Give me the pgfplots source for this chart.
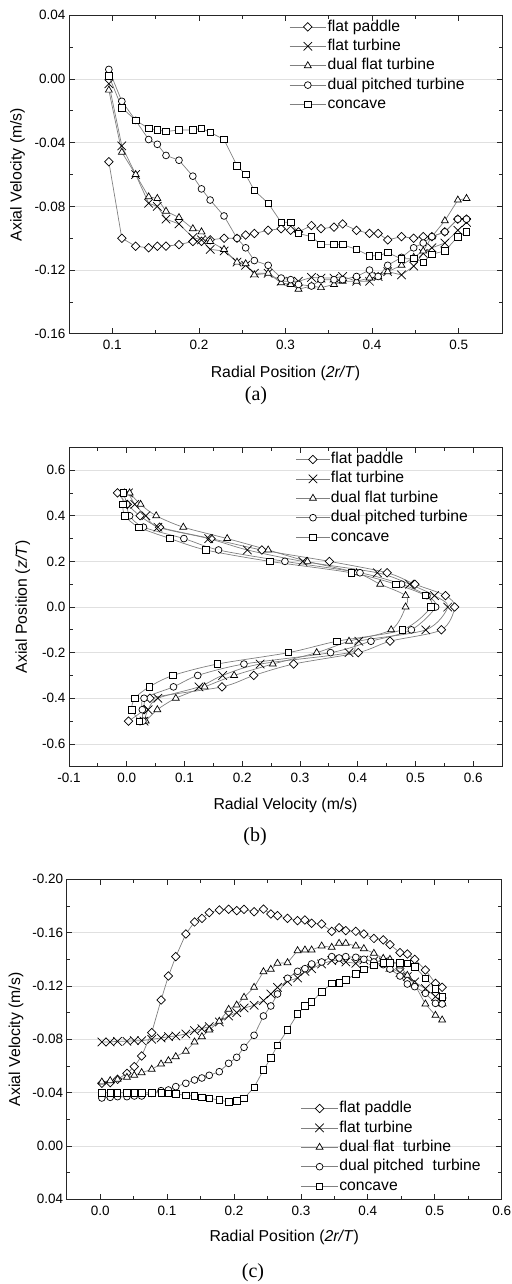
\documentclass[border=0pt]{standalone}
\usepackage{fontspec}
\setmainfont{Liberation Sans}
\newfontfamily\capfont{Liberation Serif}
\usepackage{pgfplots}
\pgfplotsset{compat=1.18}
\pgfplotsset{
  panel/.style={
    scale only axis, anchor=north west,
    axis line style={line width=1bp, black!85},
    every tick/.style={black!85, line width=0.8bp},
    major tick length=5.5bp, minor tick length=3.5bp,
    tick align=inside,
    minor x tick num=1, minor y tick num=1,
    ymajorgrids, major grid style={line width=0.8bp, black!12},
    tick label style={font=\fontsize{13.5bp}{16bp}\selectfont},
    label style={font=\fontsize{15.8bp}{18bp}\selectfont},
    xticklabel style={yshift=-3bp},
    legend cell align=left,
    legend style={draw=none, fill=none, font=\fontsize{15.7bp}{18bp}\selectfont, anchor=north west, row sep=0.6bp, inner sep=0pt,
      nodes={inner ysep=2bp, inner xsep=1bp, text height=11.5bp, text depth=3.3bp}},
    legend image code/.code={\draw[mark repeat=2,mark phase=2] plot coordinates {(0bp,0bp) (18.3bp,0bp) (36.7bp,0bp)};},
  },
  sbase/.style={color=black!50, line width=0.7bp},
  sA/.style={sbase, mark=square*, mark size=3bp, mark options={draw=black, fill=white, solid, line width=0.7bp, rotate=45}},
  sB/.style={sbase, mark=x, mark size=6bp, mark options={draw=black, solid, line width=0.7bp}},
  sC/.style={sbase, mark=triangle*, mark size=4bp, mark options={draw=black, fill=white, solid, line width=0.7bp}},
  sD/.style={sbase, mark=*, mark size=3.4bp, mark options={draw=black, fill=white, solid, line width=0.7bp}},
  sE/.style={sbase, mark=square*, mark size=3.2bp, mark options={draw=black, fill=white, solid, line width=0.7bp}},
}
\begin{document}
\begin{tikzpicture}
\useasboundingbox (0,0) rectangle (512bp,-1284bp);
% ---------------- (a)
\begin{axis}[panel, at={(69bp,-15.3bp)}, width=433bp, height=318.5bp,
  xmin=0.05, xmax=0.55, ymin=-0.16, ymax=0.04,
  xtick={0.1,0.2,0.3,0.4,0.5}, xticklabels={0.1,0.2,0.3,0.4,0.5},
  ytick={-0.16,-0.12,-0.08,-0.04,0,0.04}, yticklabels={-0.16,-0.12,-0.08,-0.04,0.00,0.04},
  xlabel={Radial Position (\textit{2r/T})}, ylabel={Axial Velocity (m/s)},
  xlabel style={at={(axis description cs:0.5,-0.1246)}, anchor=center},
  ylabel style={at={(axis description cs:-0.119,0.5)}, anchor=center},
  legend style={at={(axis description cs:0.508,0.9937)}},
]
\addplot[sA] coordinates {(0.096,-0.052) (0.111,-0.100) (0.127,-0.105) (0.142,-0.106) (0.152,-0.105) (0.162,-0.105) (0.177,-0.104) (0.193,-0.102) (0.203,-0.102) (0.213,-0.101) (0.229,-0.100) (0.244,-0.100) (0.254,-0.098) (0.264,-0.097) (0.280,-0.095) (0.295,-0.094) (0.306,-0.095) (0.315,-0.096) (0.330,-0.092) (0.341,-0.094) (0.356,-0.093) (0.366,-0.091) (0.382,-0.095) (0.397,-0.097) (0.407,-0.097) (0.418,-0.101) (0.434,-0.099) (0.448,-0.100) (0.459,-0.099) (0.469,-0.099) (0.484,-0.096) (0.499,-0.088) (0.509,-0.088)};
\addplot[sB] coordinates {(0.096,-0.003) (0.111,-0.042) (0.127,-0.060) (0.142,-0.078) (0.152,-0.080) (0.162,-0.088) (0.177,-0.091) (0.193,-0.0995) (0.203,-0.101) (0.213,-0.107) (0.229,-0.108) (0.244,-0.115) (0.254,-0.117) (0.264,-0.122) (0.280,-0.122) (0.295,-0.127) (0.306,-0.127) (0.315,-0.127) (0.330,-0.1246) (0.341,-0.125) (0.356,-0.125) (0.366,-0.124) (0.382,-0.127) (0.397,-0.127) (0.407,-0.124) (0.418,-0.121) (0.434,-0.123) (0.448,-0.1175) (0.459,-0.1095) (0.469,-0.106) (0.484,-0.103) (0.499,-0.095) (0.509,-0.090)};
\addplot[sC] coordinates {(0.096,-0.007) (0.111,-0.046) (0.127,-0.060) (0.142,-0.074) (0.152,-0.075) (0.162,-0.083) (0.177,-0.087) (0.193,-0.094) (0.203,-0.096) (0.213,-0.102) (0.229,-0.107) (0.244,-0.115) (0.254,-0.116) (0.264,-0.123) (0.280,-0.122) (0.295,-0.128) (0.306,-0.129) (0.315,-0.132) (0.330,-0.130) (0.341,-0.131) (0.356,-0.129) (0.366,-0.127) (0.382,-0.127) (0.397,-0.125) (0.407,-0.124) (0.418,-0.121) (0.434,-0.117) (0.448,-0.112) (0.459,-0.108) (0.469,-0.099) (0.484,-0.089) (0.499,-0.076) (0.509,-0.075)};
\addplot[sD] coordinates {(0.096,0.006) (0.111,-0.014) (0.127,-0.026) (0.142,-0.038) (0.152,-0.041) (0.162,-0.048) (0.177,-0.051) (0.193,-0.061) (0.203,-0.069) (0.213,-0.076) (0.229,-0.086) (0.244,-0.100) (0.254,-0.106) (0.264,-0.114) (0.280,-0.117) (0.295,-0.125) (0.306,-0.126) (0.315,-0.129) (0.330,-0.130) (0.341,-0.126) (0.356,-0.126) (0.366,-0.126) (0.382,-0.124) (0.397,-0.120) (0.407,-0.124) (0.418,-0.117) (0.434,-0.112) (0.448,-0.106) (0.459,-0.103) (0.469,-0.099) (0.484,-0.096) (0.499,-0.088) (0.509,-0.088)};
\addplot[sE] coordinates {(0.096,0.002) (0.111,-0.018) (0.127,-0.026) (0.142,-0.031) (0.152,-0.032) (0.162,-0.033) (0.177,-0.032) (0.193,-0.032) (0.203,-0.031) (0.213,-0.0335) (0.229,-0.038) (0.244,-0.0545) (0.254,-0.060) (0.264,-0.070) (0.280,-0.078) (0.295,-0.090) (0.306,-0.090) (0.315,-0.097) (0.330,-0.099) (0.341,-0.104) (0.356,-0.104) (0.366,-0.104) (0.382,-0.107) (0.397,-0.111) (0.407,-0.111) (0.418,-0.109) (0.434,-0.113) (0.448,-0.1127) (0.459,-0.115) (0.469,-0.110) (0.484,-0.108) (0.499,-0.099) (0.509,-0.096)};
\legend{flat paddle, flat turbine, dual flat turbine, dual pitched turbine, concave}
\end{axis}
\node[font=\capfont\fontsize{20bp}{22bp}\selectfont] at (256bp,-396bp) {(a)};
% ---------------- (b)
\begin{axis}[panel, at={(69bp,-447.3bp)}, width=433bp, height=319.4bp,
  xmin=-0.1, xmax=0.65, ymin=-0.7, ymax=0.7,
  xtick={-0.1,0,0.1,0.2,0.3,0.4,0.5,0.6}, xticklabels={-0.1,0.0,0.1,0.2,0.3,0.4,0.5,0.6},
  ytick={-0.6,-0.4,-0.2,0,0.2,0.4,0.6}, yticklabels={-0.6,-0.4,-0.2,0.0,0.2,0.4,0.6},
  xlabel={Radial Velocity (m/s)}, ylabel={Axial Position (\textit{z/T})},
  xlabel style={at={(axis description cs:0.5,-0.12)}, anchor=center},
  ylabel style={at={(axis description cs:-0.107,0.5)}, anchor=center},
  legend style={at={(axis description cs:0.5236,0.9919)}},
  legend image code/.code={\draw[mark repeat=2,mark phase=2] plot coordinates {(0bp,0bp) (16.7bp,0bp) (33.3bp,0bp)};},
]
\addplot[sA, smooth] coordinates {(-0.016,0.5) (0.001,0.45) (0.023,0.4) (0.057,0.35) (0.146,0.3) (0.234,0.25) (0.351,0.2) (0.451,0.15) (0.499,0.1) (0.552,0.05) (0.568,0) (0.545,-0.1) (0.456,-0.15) (0.401,-0.2) (0.289,-0.25) (0.220,-0.3) (0.165,-0.35) (0.040,-0.4) (0.030,-0.45) (0.003,-0.5)};
\addplot[sB, smooth] coordinates {(0.003,0.5) (0.014,0.45) (0.033,0.4) (0.054,0.35) (0.142,0.3) (0.209,0.25) (0.305,0.2) (0.434,0.15) (0.490,0.1) (0.533,0.05) (0.556,0) (0.518,-0.1) (0.402,-0.15) (0.385,-0.2) (0.231,-0.25) (0.166,-0.3) (0.125,-0.35) (0.054,-0.4) (0.037,-0.45) (0.030,-0.5)};
\addplot[sC, smooth] coordinates {(0.005,0.5) (0.024,0.45) (0.051,0.4) (0.098,0.35) (0.174,0.3) (0.245,0.25) (0.313,0.2) (0.398,0.15) (0.439,0.1) (0.483,0.05) (0.483,0) (0.458,-0.1) (0.385,-0.15) (0.329,-0.2) (0.253,-0.25) (0.186,-0.3) (0.135,-0.35) (0.085,-0.4) (0.053,-0.45) (0.033,-0.5)};
\addplot[sD, smooth] coordinates {(-0.005,0.5) (0.000,0.45) (0.005,0.4) (0.029,0.35) (0.099,0.3) (0.159,0.25) (0.274,0.2) (0.404,0.15) (0.476,0.1) (0.520,0.05) (0.535,0) (0.493,-0.1) (0.423,-0.15) (0.353,-0.2) (0.203,-0.25) (0.123,-0.3) (0.081,-0.35) (0.030,-0.4) (0.027,-0.45) (0.028,-0.5)};
\addplot[sE, smooth] coordinates {(-0.006,0.5) (-0.007,0.45) (-0.003,0.4) (0.021,0.35) (0.075,0.3) (0.137,0.25) (0.248,0.2) (0.389,0.15) (0.466,0.1) (0.517,0.05) (0.527,0) (0.477,-0.1) (0.364,-0.15) (0.280,-0.2) (0.157,-0.25) (0.080,-0.3) (0.039,-0.35) (0.014,-0.4) (0.009,-0.45) (0.022,-0.5)};
\legend{flat paddle, flat turbine, dual flat turbine, dual pitched turbine, concave}
\end{axis}
\node[font=\capfont\fontsize{20bp}{22bp}\selectfont] at (255bp,-837bp) {(b)};
% ---------------- (c)
\begin{axis}[panel, at={(66.7bp,-879.3bp)}, width=435bp, height=320bp,
  xmin=-0.05, xmax=0.6, ymin=-0.2, ymax=0.04, y dir=reverse,
  xtick={0,0.1,0.2,0.3,0.4,0.5,0.6}, xticklabels={0.0,0.1,0.2,0.3,0.4,0.5,0.6},
  ytick={-0.2,-0.16,-0.12,-0.08,-0.04,0,0.04}, yticklabels={-0.20,-0.16,-0.12,-0.08,-0.04,0.00,0.04},
  xlabel={Radial Position (\textit{2r/T})}, ylabel={Axial Velocity (m/s)},
  xlabel style={at={(axis description cs:0.5,-0.118)}, anchor=center},
  ylabel style={at={(axis description cs:-0.1166,0.5)}, anchor=center},
  legend style={at={(axis description cs:0.538,0.3138)}},
]
\addplot[sA] coordinates {(0.0025,-0.047) (0.015,-0.0475) (0.026,-0.050) (0.040,-0.0545) (0.051,-0.0595) (0.062,-0.0675) (0.077,-0.085) (0.091,-0.1095) (0.102,-0.1275) (0.113,-0.142) (0.128,-0.159) (0.141,-0.168) (0.152,-0.1707) (0.163,-0.175) (0.178,-0.177) (0.192,-0.1775) (0.204,-0.1765) (0.215,-0.1775) (0.230,-0.1757) (0.244,-0.1777) (0.255,-0.174) (0.265,-0.1727) (0.280,-0.1707) (0.295,-0.169) (0.306,-0.1695) (0.316,-0.167) (0.331,-0.1665) (0.346,-0.161) (0.357,-0.1637) (0.367,-0.1615) (0.382,-0.161) (0.394,-0.159) (0.409,-0.1557) (0.423,-0.1545) (0.433,-0.151) (0.448,-0.145) (0.459,-0.144) (0.470,-0.140) (0.486,-0.132) (0.501,-0.122) (0.511,-0.119)};
\addplot[sB] coordinates {(0.0025,-0.078) (0.015,-0.078) (0.026,-0.0785) (0.040,-0.0785) (0.051,-0.079) (0.062,-0.079) (0.077,-0.080) (0.091,-0.081) (0.102,-0.082) (0.113,-0.0825) (0.128,-0.084) (0.141,-0.0865) (0.152,-0.088) (0.163,-0.0895) (0.178,-0.093) (0.192,-0.0975) (0.204,-0.100) (0.215,-0.1035) (0.230,-0.1055) (0.244,-0.109) (0.255,-0.114) (0.265,-0.119) (0.280,-0.1235) (0.295,-0.126) (0.306,-0.131) (0.316,-0.133) (0.331,-0.1365) (0.346,-0.139) (0.357,-0.1395) (0.367,-0.138) (0.382,-0.137) (0.394,-0.1395) (0.409,-0.139) (0.423,-0.138) (0.433,-0.134) (0.448,-0.130) (0.459,-0.127) (0.470,-0.123) (0.486,-0.118) (0.501,-0.112) (0.511,-0.108)};
\addplot[sC] coordinates {(0.0025,-0.048) (0.015,-0.049) (0.026,-0.050) (0.040,-0.0515) (0.051,-0.053) (0.062,-0.055) (0.077,-0.0575) (0.091,-0.0615) (0.102,-0.064) (0.113,-0.067) (0.128,-0.071) (0.141,-0.078) (0.152,-0.082) (0.163,-0.087) (0.178,-0.0935) (0.192,-0.1025) (0.204,-0.1057) (0.215,-0.1115) (0.230,-0.119) (0.244,-0.1307) (0.255,-0.1325) (0.265,-0.137) (0.280,-0.1375) (0.295,-0.1465) (0.306,-0.147) (0.316,-0.147) (0.331,-0.150) (0.346,-0.149) (0.357,-0.152) (0.367,-0.152) (0.382,-0.150) (0.394,-0.148) (0.409,-0.1445) (0.423,-0.1407) (0.433,-0.140) (0.448,-0.135) (0.459,-0.128) (0.470,-0.121) (0.486,-0.1065) (0.501,-0.098) (0.511,-0.0945)};
\addplot[sD] coordinates {(0.0025,-0.036) (0.015,-0.0365) (0.026,-0.037) (0.040,-0.037) (0.051,-0.0375) (0.062,-0.0375) (0.077,-0.0395) (0.091,-0.0415) (0.102,-0.042) (0.113,-0.0445) (0.128,-0.047) (0.141,-0.0495) (0.152,-0.051) (0.163,-0.053) (0.178,-0.0557) (0.192,-0.062) (0.204,-0.0665) (0.215,-0.074) (0.230,-0.083) (0.244,-0.0975) (0.255,-0.105) (0.265,-0.114) (0.280,-0.1258) (0.295,-0.131) (0.306,-0.133) (0.316,-0.1365) (0.331,-0.138) (0.346,-0.142) (0.357,-0.141) (0.367,-0.142) (0.382,-0.1415) (0.394,-0.140) (0.409,-0.138) (0.423,-0.136) (0.433,-0.1327) (0.448,-0.1275) (0.459,-0.1215) (0.470,-0.1195) (0.486,-0.1145) (0.501,-0.107) (0.511,-0.1065)};
\addplot[sE] coordinates {(0.0025,-0.040) (0.015,-0.040) (0.026,-0.040) (0.040,-0.040) (0.051,-0.040) (0.062,-0.040) (0.077,-0.040) (0.091,-0.040) (0.102,-0.0395) (0.113,-0.039) (0.128,-0.038) (0.141,-0.0375) (0.152,-0.0365) (0.163,-0.0357) (0.178,-0.0345) (0.192,-0.033) (0.204,-0.034) (0.215,-0.0357) (0.230,-0.044) (0.244,-0.057) (0.255,-0.066) (0.265,-0.0757) (0.280,-0.087) (0.295,-0.099) (0.306,-0.105) (0.316,-0.108) (0.331,-0.1157) (0.346,-0.122) (0.357,-0.1225) (0.367,-0.1245) (0.382,-0.129) (0.394,-0.1325) (0.409,-0.1357) (0.423,-0.1375) (0.433,-0.1375) (0.448,-0.1375) (0.459,-0.137) (0.470,-0.1345) (0.486,-0.1258) (0.501,-0.118) (0.511,-0.112)};
\legend{flat paddle, flat turbine, dual flat~ turbine, dual pitched~ turbine, concave}
\end{axis}
\node[font=\capfont\fontsize{20bp}{22bp}\selectfont] at (253bp,-1273bp) {(c)};
\end{tikzpicture}
\end{document}
